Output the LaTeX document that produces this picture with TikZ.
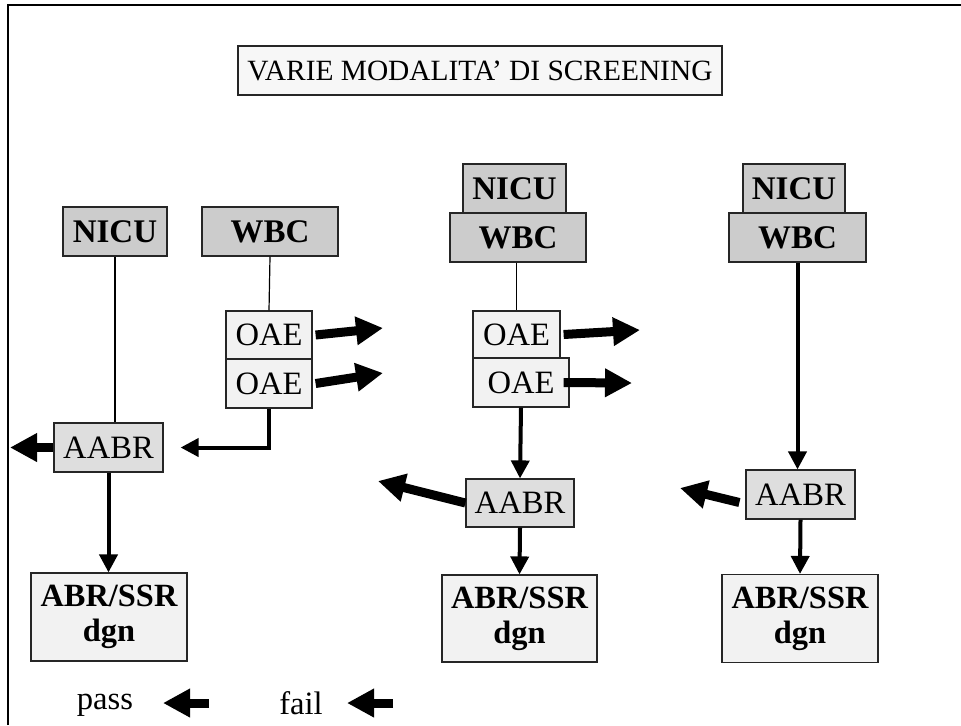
\documentclass[tikz,border=0pt]{standalone}
\usepackage{fontspec}
\setmainfont{Liberation Serif}
\usetikzlibrary{arrows.meta}
\definecolor{sitegray}{gray}{0.8}
\definecolor{aabrgray}{gray}{0.87}
\definecolor{oaegray}{gray}{0.95}

\begin{document}
\begin{tikzpicture}[x=0.5pt,y=-0.5pt,
    box/.style={draw=black!85, line width=0.6pt, inner sep=0pt, align=center,
        font=\fontsize{16.3}{17.5}\selectfont},
    sitebox/.style={box, fill=sitegray, font=\fontsize{16.5}{17.5}\selectfont\bfseries,
        minimum width=#1, minimum height=24.5pt},
    oaebox/.style={box, fill=oaegray, minimum width=#1, minimum height=24pt},
    aabrbox/.style={box, fill=aabrgray, minimum width=54.5pt, minimum height=24.5pt},
    dgnbox/.style={box, fill=oaegray, font=\fontsize{16.2}{17.5}\selectfont\bfseries,
        minimum width=78pt, minimum height=44pt},
    wire/.style={line width=0.6pt},
    fwd/.style={line width=2pt, -{Triangle[length=9pt,width=9pt]}},
    failarrow/.style={line width=4.5pt, -{Triangle[length=13.5pt,width=13.5pt]}}]
    \useasboundingbox (0,0) rectangle (961,725);
    \draw[line width=1pt] (8,725) -- (8,5) -- (961,5);
    % title
    \node[box, fill=oaegray!60, font=\fontsize{14.7}{17.5}\selectfont, minimum width=242pt, minimum height=24.5pt] (title) at (480,70.5) {VARIE MODALITA’ DI SCREENING};
    % first way: NICU and WBC apart
    \node[sitebox=52pt] (nicuA) at (115,231.5) {NICU};
    \node[sitebox=68pt] (wbcA) at (270,231.5) {WBC};
    \node[oaebox=43pt] (oaeA1) at (269,335) {OAE};
    \node[oaebox=43pt, minimum height=24.5pt] (oaeA2) at (269,383.5) {OAE};
    \node[aabrbox] (aabrA) at (108.5,447.5) {AABR};
    \node[dgnbox] (abrA) at (109,617) {ABR/SSR\\dgn};
    \draw[wire] (nicuA.south) -- (nicuA.south |- aabrA.north);
    \draw[wire] (wbcA.south) -- (oaeA1.north);
    \draw[fwd, shorten >=8.5pt] (oaeA2.south) |- (aabrA.east);
    \draw[fwd] (aabrA.south) -- (aabrA.south |- abrA.north);
    \coordinate (outA1) at (383,328);
    \coordinate (outA2) at (383,373);
    \coordinate (outA3) at (10,447.5);
    \draw[failarrow] ([xshift=1.5pt]oaeA1.east) -- (outA1);
    \draw[failarrow] ([xshift=1.5pt]oaeA2.east) -- (outA2);
    \draw[failarrow] (aabrA.west) -- (outA3);
    % second way: NICU + WBC, OAE then AABR
    \node[sitebox=51.5pt] (nicuB) at (514.5,188.5) {NICU};
    \node[sitebox=68pt] (wbcB) at (518,237.5) {WBC};
    \node[oaebox=43.5pt, minimum height=23.5pt] (oaeB1) at (516.5,334.5) {OAE};
    \node[oaebox=48pt, minimum height=24.5pt] (oaeB2) at (521,382.5) {OAE};
    \node[aabrbox, minimum width=54pt, minimum height=24pt] (aabrB) at (520,503) {AABR};
    \node[dgnbox, minimum width=77.5pt, minimum height=43.5pt] (abrB) at (519.5,618.5) {ABR/SSR\\dgn};
    \draw[wire] (wbcB.south -| oaeB1.north) -- (oaeB1.north);
    \draw[fwd] (oaeB2.south) -- (aabrB.north);
    \draw[fwd] (aabrB.south) -- (abrB.north);
    \coordinate (outB1) at (640,330);
    \coordinate (outB2) at (632,383);
    \coordinate (outB3) at (378,481);
    \draw[failarrow] ([xshift=1.5pt]oaeB1.east) -- (outB1);
    \draw[failarrow] ([xshift=-3pt]oaeB2.east) -- (outB2);
    \draw[failarrow] (aabrB.west) -- (outB3);
    % third way: NICU + WBC, AABR only
    \node[sitebox=51pt] (nicuC) at (794,188.5) {NICU};
    \node[sitebox=68.5pt] (wbcC) at (797.5,237.5) {WBC};
    \node[aabrbox] (aabrC) at (800.5,494.5) {AABR};
    \node[dgnbox] (abrC) at (800,618.5) {ABR/SSR\\dgn};
    \draw[fwd] (wbcC.south) -- (wbcC.south |- aabrC.north);
    \draw[fwd] (aabrC.south) -- (abrC.north);
    \coordinate (outC) at (680,488);
    \draw[failarrow] ([xshift=-3pt,yshift=-4pt]aabrC.west) -- (outC);
    % legend
    \node[font=\fontsize{16.3}{17.5}\selectfont] (pass) at (105,705) {pass};
    \node[font=\fontsize{16.3}{17.5}\selectfont] (fail) at (301,703) {fail};
    \coordinate (passtail) at (209,703);
    \coordinate (passtip) at (163,703);
    \coordinate (failtail) at (393,703);
    \coordinate (failtip) at (347,703);
    \draw[failarrow] (passtail) -- (passtip);
    \draw[failarrow] (failtail) -- (failtip);
\end{tikzpicture}
\end{document}
